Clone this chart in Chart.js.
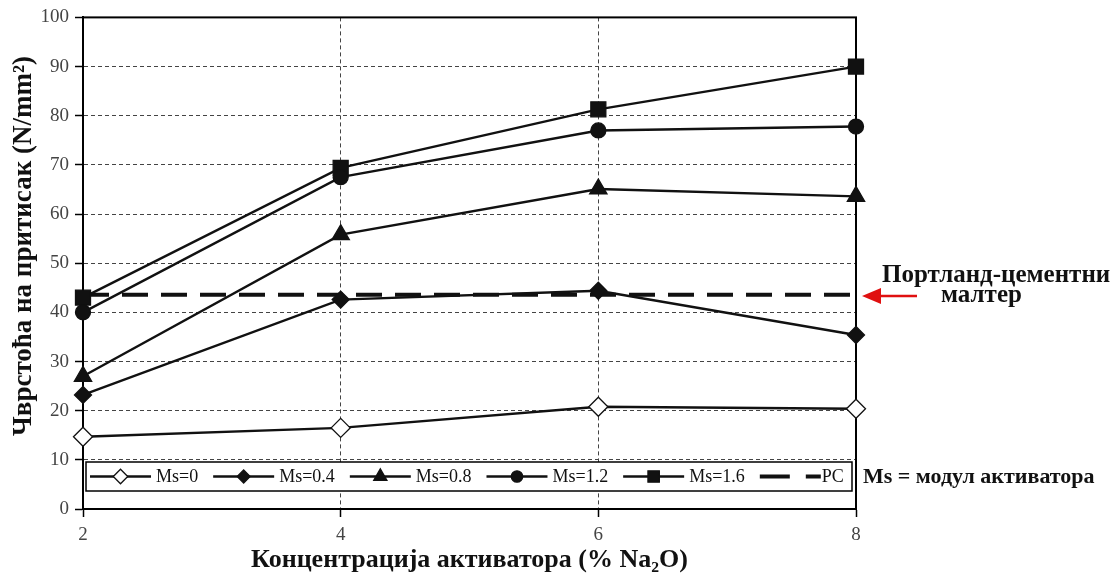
<!DOCTYPE html>
<html>
<head>
<meta charset="utf-8">
<style>
  html, body { margin: 0; padding: 0; background: #fff; }
</style>
<script src="https://cdn.jsdelivr.net/npm/chart.js@4.4.0/dist/chart.umd.min.js"></script>
</head>
<body>
<canvas id="chart" width="1118" height="573"></canvas>
<script>
const concentrations = [2, 4, 6, 8];
const ms0 = [14.7, 16.5, 20.8, 20.4];
const ms04 = [23.2, 42.6, 44.4, 35.4];
const ms08 = [27.0, 55.8, 65.1, 63.6];
const ms12 = [40.0, 67.5, 77.0, 77.8];
const ms16 = [43.0, 69.4, 81.3, 90.0];
const pcLevel = [43.6, 43.6, 43.6, 43.6];
const yTicks = [0, 10, 20, 30, 40, 50, 60, 70, 80, 90, 100];

const serif = "'Liberation Serif', 'DejaVu Serif', serif";

function points(values) {
    return concentrations.map((x, i) => ({ x, y: values[i] }));
}

function series(label, values, style, radius, fill) {
    return {
        label,
        data: points(values),
        borderColor: "#111",
        borderWidth: 2.4,
        pointStyle: style,
        pointRadius: radius,
        pointHoverRadius: radius,
        pointBackgroundColor: fill,
        pointBorderColor: "#111",
        pointBorderWidth: 1.3,
        legendRadius: radius * 0.76,
        tension: 0,
        clip: false,
    };
}

const datasets = [
    series("Ms=0", ms0, "rectRot", 9.5, "#fff"),
    series("Ms=0.4", ms04, "rectRot", 8.5, "#111"),
    series("Ms=0.8", ms08, "triangle", 10, "#111"),
    series("Ms=1.2", ms12, "circle", 7.5, "#111"),
    series("Ms=1.6", ms16, "rect", 10.6, "#111"),
    {
        label: "PC",
        data: points(pcLevel),
        borderColor: "#111",
        borderWidth: 4,
        borderDash: [26, 13],
        pointRadius: 0,
        pointHoverRadius: 0,
        clip: false,
    },
];

function edgeHidden(values) {
    return (ctx) => (ctx.tick && values.includes(ctx.tick.value) ? "rgba(0,0,0,0)" : "#444");
}

const framePlugin = {
    id: "frame",
    beforeDatasetsDraw(chart) {
        const { ctx, chartArea: a } = chart;
        ctx.save();
        ctx.strokeStyle = "#000";
        ctx.lineWidth = 2;
        ctx.strokeRect(a.left, a.top, a.right - a.left, a.bottom - a.top);
        ctx.restore();
    },
};

const legendPlugin = {
    id: "innerLegend",
    afterDatasetsDraw(chart) {
        const { ctx } = chart;
        const box = { left: 86, top: 462, right: 852, bottom: 491 };
        const cy = (box.top + box.bottom) / 2;
        ctx.save();
        ctx.fillStyle = "#fff";
        ctx.fillRect(box.left, box.top, box.right - box.left, box.bottom - box.top);
        ctx.strokeStyle = "#000";
        ctx.lineWidth = 1.5;
        ctx.strokeRect(box.left, box.top, box.right - box.left, box.bottom - box.top);

        ctx.font = `18px ${serif}`;
        ctx.textBaseline = "middle";
        ctx.textAlign = "left";
        let x = 90;
        chart.data.datasets.forEach((ds) => {
            const lineLen = 61;
            ctx.save();
            ctx.strokeStyle = "#111";
            if (ds.borderDash) {
                ctx.lineWidth = 4;
                ctx.setLineDash([30, 16]);
            } else {
                ctx.lineWidth = 2.4;
            }
            ctx.beginPath();
            ctx.moveTo(x, cy);
            ctx.lineTo(x + lineLen, cy);
            ctx.stroke();
            ctx.restore();
            if (ds.pointRadius) {
                ctx.save();
                ctx.fillStyle = ds.pointBackgroundColor;
                ctx.strokeStyle = "#111";
                ctx.lineWidth = 1.3;
                Chart.helpers.drawPoint(ctx, {
                    pointStyle: ds.pointStyle,
                    radius: ds.legendRadius,
                    rotation: 0,
                    borderWidth: 1.3,
                }, x + lineLen / 2, cy);
                ctx.restore();
            }
            x += lineLen + (ds.borderDash ? 1 : 5);
            ctx.fillStyle = "#111";
            ctx.fillText(ds.label, x, cy + 1);
            x += ctx.measureText(ds.label).width + 15;
        });
        ctx.restore();
    },
};

const notesPlugin = {
    id: "notes",
    afterDraw(chart) {
        const { ctx } = chart;
        ctx.save();
        // y axis title
        ctx.translate(24, 246);
        ctx.rotate(-Math.PI / 2);
        ctx.font = `bold 27px ${serif}`;
        ctx.fillStyle = "#111";
        ctx.textAlign = "center";
        ctx.textBaseline = "middle";
        ctx.fillText("Чврстоћа на притисак (N/mm²)", 0, 0);
        ctx.restore();

        ctx.save();
        ctx.fillStyle = "#111";
        ctx.textBaseline = "middle";
        ctx.textAlign = "left";
        ctx.font = `bold 25px ${serif}`;
        ctx.fillText("Портланд-цементни", 882, 276);
        ctx.fillText("малтер", 941, 296);
        ctx.font = `bold 22px ${serif}`;
        ctx.fillText("Ms = модул активатора", 863, 477);

        // red arrow
        ctx.strokeStyle = "#e01010";
        ctx.fillStyle = "#e01010";
        ctx.lineWidth = 2.5;
        ctx.beginPath();
        ctx.moveTo(917, 296);
        ctx.lineTo(876, 296);
        ctx.stroke();
        ctx.beginPath();
        ctx.moveTo(862, 296);
        ctx.lineTo(881, 288);
        ctx.lineTo(881, 304);
        ctx.closePath();
        ctx.fill();
        ctx.restore();
    },
};

new Chart(document.getElementById("chart"), {
    type: "line",
    data: { datasets },
    options: {
        responsive: false,
        animation: false,
        events: [],
        layout: { padding: { left: 0, right: 262, top: 16, bottom: 0 } },
        plugins: {
            legend: { display: false },
            tooltip: { enabled: false },
        },
        scales: {
            x: {
                type: "linear",
                min: 2,
                max: 8,
                afterFit(scale) { scale.height = 64; },
                afterBuildTicks(scale) { scale.ticks = concentrations.map((v) => ({ value: v })); },
                ticks: {
                    color: "#444",
                    font: { family: serif, size: 19 },
                    padding: 7,
                },
                grid: {
                    color: edgeHidden([2, 8]),
                    lineWidth: 1,
                    tickLength: 8,
                    tickColor: "#000",
                    tickWidth: 1.5,
                },
                border: { display: true, color: "#000", width: 2, dash: [4, 3] },
                title: {
                    display: true,
                    text: "Концентрација активатора (% Na₂O)",
                    color: "#111",
                    font: { family: serif, size: 26, weight: "bold", lineHeight: 1 },
                    padding: { top: 0, bottom: 0 },
                },
            },
            y: {
                min: 0,
                max: 100,
                afterFit(scale) { scale.width = 83; },
                afterBuildTicks(scale) { scale.ticks = yTicks.map((v) => ({ value: v })); },
                ticks: {
                    color: "#444",
                    font: { family: serif, size: 19 },
                    padding: 6,
                },
                grid: {
                    color: edgeHidden([0, 100]),
                    lineWidth: 1,
                    tickLength: 8,
                    tickColor: "#000",
                    tickWidth: 1.5,
                },
                border: { display: true, color: "#000", width: 2, dash: [4, 3] },
            },
        },
    },
    plugins: [framePlugin, legendPlugin, notesPlugin],
});
</script>
</body>
</html>
